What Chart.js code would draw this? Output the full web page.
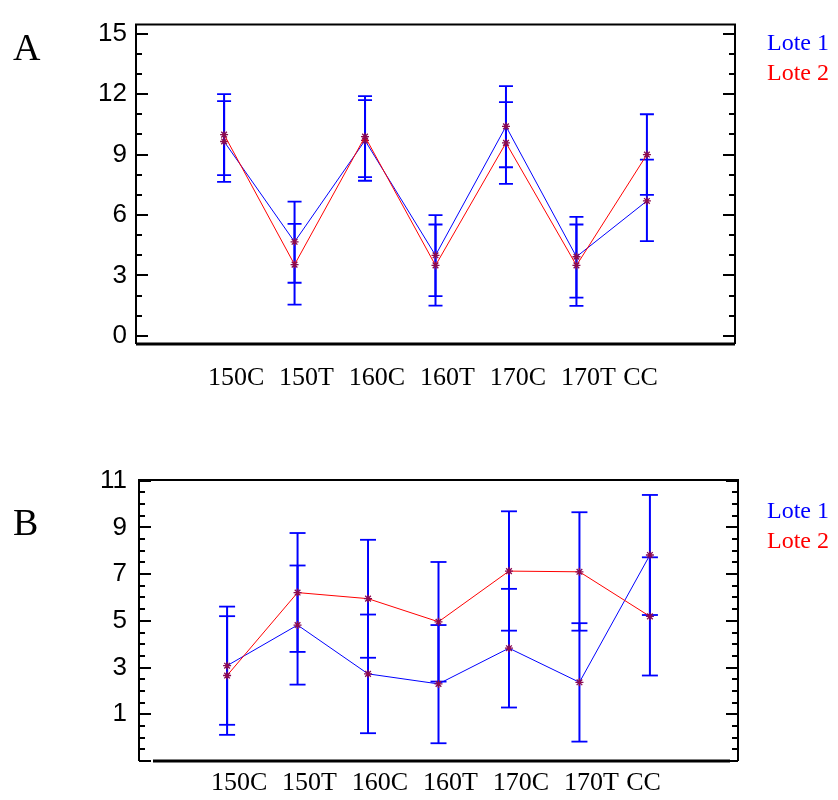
<!DOCTYPE html>
<html>
<head>
<meta charset="utf-8">
<script src="https://cdn.jsdelivr.net/npm/chart.js@4.4.1/dist/chart.umd.min.js"></script>
<style>
  body { margin: 0; background: #fff; }
  .panel { position: relative; width: 838px; height: 400px; }
  .tag { position: absolute; font-family: "Liberation Serif", serif; font-size: 38px; line-height: 38px; color: #000; }
  .leg { position: absolute; left: 767px; font-family: "Liberation Serif", serif; font-size: 24px; line-height: 30px; }
</style>
</head>
<body>
<div class="panel">
  <canvas id="chartA" width="838" height="400"></canvas>
  <div class="tag" style="left:13px; top:28px">A</div>
  <div class="leg" style="top:27px"><div style="color:#0000ff">Lote 1</div><div style="color:#ff0000">Lote 2</div></div>
</div>
<div class="panel">
  <canvas id="chartB" width="838" height="400"></canvas>
  <div class="tag" style="left:13px; top:103px">B</div>
  <div class="leg" style="top:95px"><div style="color:#0000ff">Lote 1</div><div style="color:#ff0000">Lote 2</div></div>
</div>
<script>
const categories = ['150C', '150T', '160C', '160T', '170C', '170T', 'CC'];

// panel A
const meanA1 = [9.65, 4.67, 9.70, 4.00, 10.40, 3.93, 6.70];
const meanA2 = [9.99, 3.54, 9.89, 3.50, 9.58, 3.50, 9.00];
const lowA1  = [7.65, 2.64, 7.70, 1.98, 8.37, 1.90, 4.71];
const highA1 = [11.65, 6.67, 11.70, 6.00, 12.40, 5.91, 8.75];
const lowA2  = [7.98, 1.55, 7.88, 1.50, 7.55, 1.49, 7.00];
const highA2 = [12.00, 5.56, 11.90, 5.53, 11.60, 5.53, 11.00];
const yTicksA = [0, 3, 6, 9, 12, 15];

// panel B
const meanB1 = [3.08, 4.82, 2.73, 2.30, 3.83, 2.37, 7.82];
const meanB2 = [2.66, 6.21, 5.95, 4.96, 7.13, 7.10, 5.19];
const lowB1  = [0.55, 2.27, 0.19, -0.24, 1.29, -0.17, 5.25];
const highB1 = [5.61, 7.37, 5.27, 4.82, 6.37, 4.90, 10.39];
const lowB2  = [0.12, 3.67, 3.42, 2.40, 4.58, 4.58, 2.66];
const highB2 = [5.20, 8.76, 8.47, 7.52, 9.69, 9.65, 7.72];
const yTicksB = [1, 3, 5, 7, 9, 11];

const BLUE = '#0000ff', RED = '#ff0000', MARK = '#8b0a50';

// frame + inward tick marks on both sides
function framePlugin(o) {
    return {
        id: 'frame',
        afterDraw(chart) {
            const { ctx, chartArea: { left, right, top, bottom } } = chart;
            const y = chart.scales.y;
            ctx.save();
            ctx.strokeStyle = '#000';
            ctx.lineWidth = 2;
            ctx.beginPath();
            ctx.moveTo(left, bottom); ctx.lineTo(left, top);
            ctx.lineTo(right, top); ctx.lineTo(right, bottom);
            ctx.stroke();
            ctx.lineWidth = 3;
            ctx.beginPath();
            ctx.moveTo(left + o.gapL, bottom); ctx.lineTo(right - o.gapR, bottom);
            ctx.stroke();
            ctx.lineWidth = 2;
            for (let v = o.from; v <= o.to + 1e-9; v += o.step) {
                const py = Math.round(y.getPixelForValue(v));
                const k = (v - o.base) / o.every;
                const len = Math.abs(k - Math.round(k)) < 1e-6 ? 12 : 6;
                ctx.beginPath();
                ctx.moveTo(left, py); ctx.lineTo(left + len, py);
                ctx.moveTo(right, py); ctx.lineTo(right - len, py);
                ctx.stroke();
            }
            ctx.restore();
        }
    };
}

function errorSets(lows, highs, cap) {
    return categories.map((c, i) => ({
        data: [{ x: i, y: lows[i] }, { x: i, y: highs[i] }],
        borderColor: BLUE,
        borderWidth: 2,
        pointStyle: 'line',
        pointRadius: cap,
        pointBorderWidth: 1.8,
        pointBorderColor: BLUE,
        order: 3
    }));
}

function lineSet(label, means, color, ord) {
    return {
        label: label,
        data: means.map((v, i) => ({ x: i, y: v })),
        borderColor: color,
        borderWidth: 1,
        pointStyle: 'star',
        pointRadius: 4,
        pointBorderWidth: 1.3,
        pointBorderColor: MARK,
        order: ord
    };
}

function makeChart(id, p) {
    new Chart(document.getElementById(id), {
        type: 'line',
        data: {
            datasets: [
                lineSet('Lote 1', p.m1, BLUE, 1),
                lineSet('Lote 2', p.m2, RED, 0),
                ...errorSets(p.lo1, p.hi1, p.cap),
                ...errorSets(p.lo2, p.hi2, p.cap)
            ]
        },
        options: {
            responsive: false,
            animation: false,
            events: [],
            layout: { padding: { top: p.top, right: p.right, left: 0, bottom: 0 } },
            plugins: { legend: { display: false }, tooltip: { enabled: false } },
            scales: {
                x: {
                    type: 'linear',
                    min: -1.25, max: 7.25,
                    grid: { display: false, drawTicks: false },
                    border: { display: false },
                    ticks: {
                        color: '#000',
                        font: { family: 'Liberation Serif', size: 26 },
                        padding: p.xPad,
                        maxRotation: 0,
                        autoSkip: false,
                        callback: v => categories[Math.round(v)]
                    },
                    afterBuildTicks: ax => {
                        ax.ticks = categories.map((c, i) => ({ value: i < 6 ? i + 0.17 : i - 0.09 }));
                    },
                    afterFit: s => { s.height = p.xH; }
                },
                y: {
                    min: p.ymin, max: p.ymax,
                    grid: { display: false, drawTicks: false },
                    border: { display: false },
                    ticks: {
                        color: '#000',
                        font: { family: 'Liberation Sans', size: 26 },
                        padding: p.yPad
                    },
                    afterBuildTicks: ax => { ax.ticks = p.yt.map(v => ({ value: v })); },
                    afterFit: s => { s.width = p.yW; }
                }
            }
        },
        plugins: [framePlugin(p.frame)]
    });
}

makeChart('chartA', {
    m1: meanA1, m2: meanA2, lo1: lowA1, hi1: highA1, lo2: lowA2, hi2: highA2,
    yt: yTicksA, ymin: -0.4, ymax: 15.45, cap: 7,
    top: 15, right: 103, xH: 56, xPad: 19, yW: 136, yPad: 9,
    frame: { from: 0, to: 15, step: 1, every: 3, base: 0, gapL: 0, gapR: 0 }
});

makeChart('chartB', {
    m1: meanB1, m2: meanB2, lo1: lowB1, hi1: highB1, lo2: lowB2, hi2: highB2,
    yt: yTicksB, ymin: -1, ymax: 11.03, cap: 8,
    top: 80, right: 100, xH: 39, xPad: 7, yW: 139, yPad: 12,
    frame: { from: -1, to: 11, step: 0.5, every: 2, base: 1, gapL: 14, gapR: 8 }
});
</script>
</body>
</html>
